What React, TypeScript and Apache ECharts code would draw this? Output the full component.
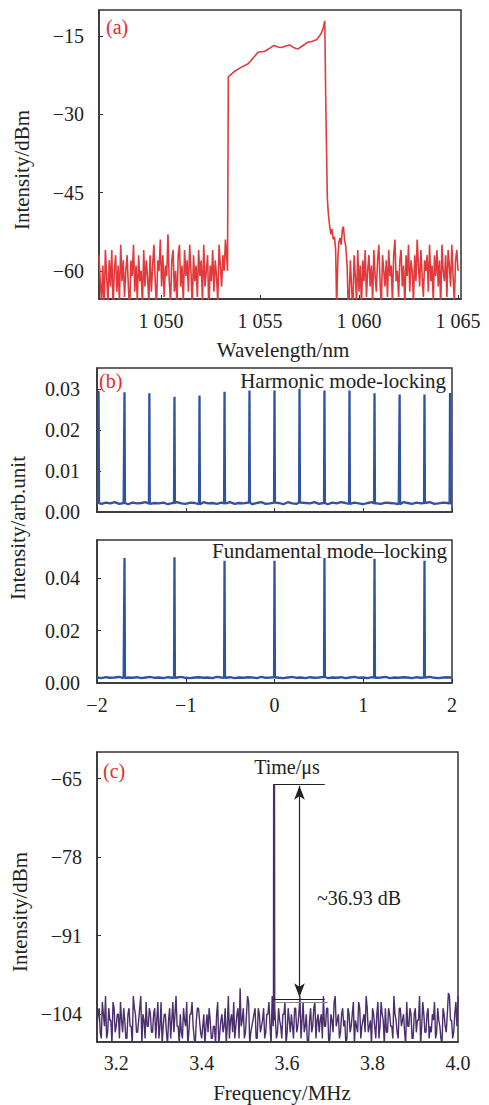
import React, { useEffect, useRef } from "react";
import * as echarts from "echarts";

// ---------- Panel (a): optical spectrum ----------
const aLeftStart = 1046.87;
const aLeftStep = 0.0645;
const aLeftNoise = [
  -57, -62, -66, -59, -68, -56, -61, -66, -58, -63, -56, -67, -60, -57, -64, -59, -66, -55, -62, -58,
  -65, -60, -57, -63, -68, -58, -61, -55, -64, -59, -66, -57, -62, -60, -67, -56, -63, -58, -61, -66,
  -57, -64, -59, -55, -62, -67, -58, -60, -54, -63, -57, -65, -59, -61, -53, -62, -66, -58, -56, -64,
  -60, -67, -57, -55, -63, -59, -66, -56, -61, -58, -64, -55, -60, -67, -57, -62, -59, -65, -56, -61,
  -58, -66, -55, -63, -60, -57, -68, -59, -62, -56, -64, -58, -61, -66, -55, -59, -63, -57, -60, -54,
];
const aBandX = [
  1053.36, 1053.4, 1053.7, 1054.0, 1054.4, 1054.7, 1054.9, 1055.25, 1055.5, 1055.7, 1055.9, 1056.1,
  1056.3, 1056.5, 1056.7, 1056.9, 1057.1, 1057.4, 1057.65, 1057.85, 1058.0, 1058.1, 1058.2, 1058.27,
  1058.33, 1058.4, 1058.45, 1058.52, 1058.58, 1058.64, 1058.7, 1058.76, 1058.82, 1058.87, 1058.93,
  1058.98, 1059.04, 1059.1, 1059.16, 1059.21, 1059.27, 1059.33, 1059.4, 1059.45,
];
const aBandY = [
  -60, -22.8, -21.8, -21.1, -20.3, -19.0, -18.1, -17.9, -17.3, -16.8, -17.1, -17.2,
  -16.9, -16.7, -17.2, -17.5, -17.0, -16.2, -16.0, -15.7, -15.0, -14.4, -13.3, -12.1,
  -30, -46, -49, -51.5, -53, -52, -54, -53.5, -56, -67, -58,
  -54.5, -53.7, -55, -52, -51.5, -54, -55.3, -59, -66,
];
const aRightStart = 1059.5;
const aRightStep = 0.0625;
const aRightNoise = [
  -66, -58, -63, -68, -57, -61, -66, -56, -64, -59, -67, -58, -62, -56, -65, -60, -57, -63, -59, -66,
  -56, -61, -64, -58, -55, -62, -67, -57, -60, -63, -58, -65, -56, -61, -59, -66, -57, -54, -62, -60,
  -65, -58, -56, -63, -59, -67, -57, -61, -55, -64, -58, -60, -66, -57, -62, -54, -59, -63, -56, -61,
  -65, -58, -60, -57, -64, -55, -62, -59, -66, -57, -61, -56, -63, -58, -67, -55, -60, -62, -57, -65,
  -56, -59, -63, -55, -61, -66, -58, -56, -60,
];
const aXTicks = [1050, 1055, 1060, 1065];
const aYTicks = [-60, -45, -30, -15];

// ---------- Panel (b): pulse trains ----------
const bBaseStart = -2;
const bBaseStep = 0.05;
const harmonicBase = [
  0.0022, 0.002, 0.0023, 0.0021, 0.0024, 0.002, 0.0022, 0.0019, 0.0023, 0.0021,
  0.0022, 0.0024, 0.002, 0.0022, 0.0021, 0.0023, 0.0019, 0.0022, 0.0024, 0.0021,
  0.002, 0.0023, 0.0022, 0.0019, 0.0024, 0.0021, 0.0022, 0.002, 0.0023, 0.0021,
  0.0024, 0.002, 0.0022, 0.0021, 0.0023, 0.0019, 0.0022, 0.0024, 0.002, 0.0021,
  0.0023, 0.0022, 0.0019, 0.0024, 0.0021, 0.002, 0.0023, 0.0022, 0.0021, 0.0024,
  0.002, 0.0022, 0.0019, 0.0023, 0.0021, 0.0024, 0.0022, 0.002, 0.0023, 0.0021,
  0.0019, 0.0022, 0.0024, 0.0021, 0.002, 0.0023, 0.0022, 0.0021, 0.0019, 0.0024,
  0.0022, 0.002, 0.0023, 0.0021, 0.0022, 0.0024, 0.002, 0.0021, 0.0023, 0.0022, 0.0021,
];
const harmonicPeakX = [
  -1.982, -1.69, -1.41, -1.127, -0.845, -0.563, -0.282, 0.0, 0.282, 0.563, 0.845, 1.127, 1.41, 1.69, 1.978,
];
const harmonicPeakY = [
  0.0296, 0.0293, 0.029, 0.0282, 0.0285, 0.0294, 0.0297, 0.0297, 0.0301, 0.0297, 0.0297, 0.029, 0.0287,
  0.0287, 0.0291,
];
const fundamentalBase = [
  0.0021, 0.0019, 0.0022, 0.002, 0.0021, 0.0023, 0.0019, 0.0021, 0.002, 0.0022,
  0.0019, 0.0021, 0.0023, 0.002, 0.0021, 0.0019, 0.0022, 0.002, 0.0021, 0.0023,
  0.002, 0.0019, 0.0021, 0.0022, 0.002, 0.0021, 0.0019, 0.0023, 0.0021, 0.002,
  0.0022, 0.0019, 0.0021, 0.002, 0.0022, 0.0021, 0.0019, 0.0023, 0.002, 0.0021,
  0.0022, 0.002, 0.0019, 0.0021, 0.0023, 0.002, 0.0021, 0.0019, 0.0022, 0.002,
  0.0021, 0.0023, 0.0019, 0.0021, 0.002, 0.0022, 0.0019, 0.0021, 0.0023, 0.002,
  0.0021, 0.0019, 0.0022, 0.002, 0.0021, 0.0023, 0.0019, 0.0021, 0.002, 0.0022,
  0.0021, 0.0019, 0.0022, 0.002, 0.0021, 0.0023, 0.002, 0.0019, 0.0021, 0.0022, 0.002,
];
const fundamentalPeakX = [-1.69, -1.127, -0.563, 0.0, 0.563, 1.127, 1.69];
const fundamentalPeakY = [0.0477, 0.048, 0.0467, 0.0467, 0.0477, 0.0474, 0.0467];
const bXTicks = [-2, -1, 0, 1, 2];
const b1YTicks = [0, 0.01, 0.02, 0.03];
const b2YTicks = [0, 0.02, 0.04];

// ---------- Panel (c): RF spectrum ----------
const cStart = 3.155;
const cStep = 0.005;
const cNoise = [
  -106, -103, -108, -104, -101, -107, -105, -109, -103, -106, -104, -102, -107,
  -105, -108, -103, -106, -101, -104, -107, -103, -109, -105, -102, -106, -104,
  -107, -103, -105, -108, -102, -106, -104, -109, -103, -105, -107, -101, -106,
  -104, -108, -105, -102, -107, -104, -106, -109, -103, -105, -108, -104, -106,
  -107, -105, -108, -106, -104, -109, -105, -107, -103, -106, -108, -104, -102,
  -106, -103, -99.7, -105, -108, -104, -102, -107, -105, -103, -108, -104, -106,
  -103, -107, -104, -106, -101, -105, -108, -103, -106, -104, -102, -107, -105,
  -104, -108, -103, -106, -101, -105, -107, -104, -109, -103, -106, -102, -105,
  -107, -104, -101, -106, -103, -108, -105, -102, -106, -104, -107, -103, -105,
  -108, -104, -106, -102, -105, -107, -103, -106, -104, -101, -107, -105, -103,
  -106, -104, -108, -102, -105, -103, -107, -104, -106, -101, -105, -108, -103,
  -105, -107, -102, -106, -104, -108, -103, -105, -101, -106, -104, -107, -103,
  -106, -104, -102, -107, -105, -108, -103, -106, -104, -101, -105, -107, -102, -101,
];
// samples half-way between the cNoise samples
const cNoiseMid = [
  -104, -107, -102, -106, -108, -103, -105, -102, -107, -104, -108, -105, -103,
  -108, -104, -106, -109, -103, -107, -105, -101, -104, -108, -106, -103, -107,
  -104, -108, -102, -106, -109, -104, -107, -105, -108, -102, -104, -106, -109,
  -107, -103, -106, -109, -104, -102, -108, -105, -103, -107, -106, -109, -104,
  -103, -108, -106, -109, -102, -107, -104, -106, -109, -101, -105, -107, -108,
  -104, -108, -106, -103, -107, -101, -109, -106, -104, -108, -103, -107, -105,
  -108, -104, -102, -109, -106, -103, -107, -105, -108, -104, -109, -103, -107,
  -106, -103, -107, -104, -108, -102, -106, -109, -105, -107, -103, -108, -104,
  -105, -108, -106, -103, -109, -104, -107, -101, -105, -108, -104, -106, -109,
  -103, -107, -104, -109, -106, -102, -108, -105, -107, -103, -106, -109, -104,
  -108, -102, -106, -104, -109, -107, -103, -106, -108, -104, -107, -103, -106,
  -104, -109, -106, -103, -108, -104, -107, -105, -109, -102, -107, -104, -108,
  -107, -105, -108, -103, -106, -109, -104, -107, -100.5, -105, -108, -104, -106,
];
const cPeakX = 3.5695;
const cPeakTop = -65.9;
const cPeakFoot = -103;
const cArrowX = 3.629;
const cLineEnd = 3.688;
const cLowLineY = -101.5;
const cLowLine2Y = -102.0;
const cXTicks = [3.2, 3.4, 3.6, 3.8, 4.0];
const cYTicks = [-104, -91, -78, -65];

const SERIF = "'Liberation Serif', 'Times New Roman', serif";
const minus = (s: string) => s.replace(/-/g, "\u2212");

function buildA() {
  const pts: number[][] = [];
  aLeftNoise.forEach((v, i) => pts.push([aLeftStart + i * aLeftStep, v]));
  aBandX.forEach((x, i) => pts.push([x, aBandY[i]]));
  aRightNoise.forEach((v, i) => pts.push([aRightStart + i * aRightStep, v]));
  return pts;
}

function buildB(base: number[], px: number[], py: number[]) {
  const pts: number[][] = [];
  base.forEach((v, i) => pts.push([bBaseStart + i * bBaseStep, v]));
  px.forEach((x, i) => {
    const b = base[Math.min(base.length - 1, Math.round((x - bBaseStart) / bBaseStep))];
    pts.push([x - 0.005, b]);
    pts.push([x, py[i]]);
    pts.push([x + 0.005, b]);
  });
  pts.sort((p, q) => p[0] - q[0]);
  return pts;
}

function buildC() {
  const pts: number[][] = [];
  cNoise.forEach((v, i) => pts.push([cStart + i * cStep, v]));
  cNoiseMid.forEach((v, i) => pts.push([cStart + (i + 0.5) * cStep, v]));
  pts.push([cPeakX - 0.0015, cPeakFoot]);
  pts.push([cPeakX - 0.001, cPeakTop]);
  pts.push([cPeakX + 0.001, cPeakTop]);
  pts.push([cPeakX + 0.0015, cPeakFoot]);
  pts.sort((p, q) => p[0] - q[0]);
  return pts;
}

const axisLineStyle = { show: true, onZero: false, lineStyle: { color: "#333", width: 1.5 } };
const labelBase = { fontSize: 20, fontFamily: SERIF, color: "#222" };

function xAx(grid: number, min: number, max: number, ticks: number[], fmt: (v: number) => string, showLabel: boolean, margin: number, showTick = true) {
  return {
    type: "value",
    gridIndex: grid,
    min,
    max,
    axisLine: axisLineStyle,
    axisTick: { show: showTick, inside: true, length: 4, customValues: ticks, lineStyle: { color: "#333", width: 1 } },
    axisLabel: { show: showLabel, customValues: ticks, formatter: fmt, margin, ...labelBase },
    splitLine: { show: false },
  };
}
function yAx(grid: number, min: number, max: number, ticks: number[], fmt: (v: number) => string, margin: number) {
  return {
    type: "value",
    gridIndex: grid,
    min,
    max,
    axisLine: axisLineStyle,
    axisTick: { show: true, inside: true, length: 4, customValues: ticks, lineStyle: { color: "#333", width: 1 } },
    axisLabel: { show: true, customValues: ticks, formatter: fmt, margin, ...labelBase },
    splitLine: { show: false },
  };
}

function txt(text: string, x: number, y: number, opts: any = {}) {
  return {
    type: "text",
    x,
    y,
    rotation: opts.rotation || 0,
    silent: true,
    style: {
      text,
      fill: opts.fill || "#222",
      fontSize: opts.fontSize || 21,
      fontFamily: SERIF,
      align: opts.align || "center",
      verticalAlign: "middle",
    },
  };
}

export default function App() {
  const ref = useRef<HTMLDivElement>(null);
  useEffect(() => {
    if (!ref.current) return;
    const chart = echarts.init(ref.current, undefined, { renderer: "svg" });
    const gridStyle = { show: true, borderColor: "#333", borderWidth: 1.5, backgroundColor: "transparent" };
    const option: any = {
      animation: false,
      grid: [
        { left: 99, top: 10, width: 362, height: 289, ...gridStyle },
        { left: 97, top: 368, width: 355, height: 144, ...gridStyle },
        { left: 97, top: 540, width: 355, height: 143, ...gridStyle },
        { left: 97, top: 752, width: 361, height: 290, ...gridStyle },
      ],
      xAxis: [
        xAx(0, 1046.87, 1065.15, aXTicks, (v: number) => String(v).replace(/(\d)(\d{3})$/, "$1 $2"), true, 12),
        xAx(1, -2, 2, bXTicks, (v: number) => minus(String(v)), false, 12),
        xAx(2, -2, 2, bXTicks, (v: number) => minus(String(v)), true, 12),
        xAx(3, 3.155, 4.0, cXTicks, (v: number) => v.toFixed(1), true, 11, false),
      ],
      yAxis: [
        yAx(0, -65.4, -10, aYTicks, (v: number) => minus(String(v)), 15),
        yAx(1, 0, 0.0352, b1YTicks, (v: number) => v.toFixed(2), 17),
        yAx(2, 0, 0.0546, b2YTicks, (v: number) => v.toFixed(2), 17),
        yAx(3, -108.6, -60.6, cYTicks, (v: number) => minus(String(v)), 15),
      ],
      series: [
        {
          type: "line",
          xAxisIndex: 0,
          yAxisIndex: 0,
          data: buildA(),
          symbol: "none",
          clip: true,
          lineStyle: { color: "#e23a3c", width: 1.6 },
        },
        {
          type: "line",
          xAxisIndex: 1,
          yAxisIndex: 1,
          data: buildB(harmonicBase, harmonicPeakX, harmonicPeakY),
          symbol: "none",
          clip: true,
          lineStyle: { color: "#2f52a3", width: 2.3 },
        },
        {
          type: "line",
          xAxisIndex: 2,
          yAxisIndex: 2,
          data: buildB(fundamentalBase, fundamentalPeakX, fundamentalPeakY),
          symbol: "none",
          clip: true,
          lineStyle: { color: "#2f52a3", width: 2.3 },
        },
        {
          type: "line",
          xAxisIndex: 3,
          yAxisIndex: 3,
          data: buildC(),
          symbol: "none",
          clip: true,
          lineStyle: { color: "#4b2e6c", width: 1.4 },
          markLine: {
            silent: true,
            symbol: "none",
            label: { show: false },
            lineStyle: { color: "#222", width: 1.2, type: "solid" },
            data: [
              [{ coord: [cPeakX, cPeakTop] }, { coord: [cLineEnd, cPeakTop] }],
              [{ coord: [cPeakX - 0.003, cLowLineY] }, { coord: [cLineEnd, cLowLineY] }],
              [
                { coord: [cPeakX, cLowLine2Y], lineStyle: { color: "#888", width: 1 } },
                { coord: [cLineEnd + 0.007, cLowLine2Y] },
              ],
              [
                { coord: [cArrowX, cPeakTop - 0.3], symbol: "arrow", symbolSize: [8, 14] },
                { coord: [cArrowX, cLowLineY + 0.3], symbol: "arrow", symbolSize: [8, 14] },
              ],
            ],
          },
        },
      ],
      graphic: [
        txt("(a)", 106, 27, { fill: "#e8282c", align: "left", fontSize: 20 }),
        txt("Intensity/dBm", 22, 170, { rotation: Math.PI / 2 }),
        txt("Wavelength/nm", 283, 350),
        txt("(b)", 99, 381, { fill: "#e8282c", align: "left", fontSize: 20 }),
        txt("Harmonic mode-locking", 446, 381, { align: "right", fontSize: 21 }),
        txt("Fundamental mode\u2013locking", 447, 551, { align: "right", fontSize: 21 }),
        txt("Intensity/arb.unit", 18, 528, { rotation: Math.PI / 2 }),
        txt("(c)", 103, 771, { fill: "#e8282c", align: "left", fontSize: 20 }),
        txt("Time/\u03bcs", 287, 767, { fontSize: 20 }),
        txt("~36.93 dB", 317, 898, { align: "left", fontSize: 20 }),
        txt("Intensity/dBm", 20, 912, { rotation: Math.PI / 2 }),
        txt("Frequency/MHz", 282, 1093),
      ],
    };
    chart.setOption(option);
    return () => chart.dispose();
  }, []);
  return (
    <div
      ref={ref}
      style={{ position: "absolute", left: 0, top: 0, width: 489, height: 1105, background: "#fff" }}
    />
  );
}
